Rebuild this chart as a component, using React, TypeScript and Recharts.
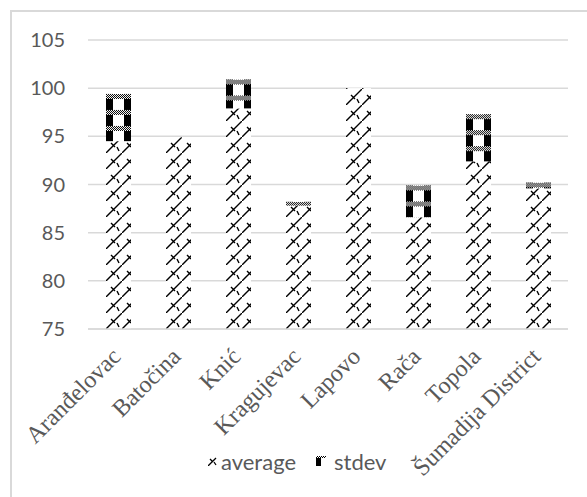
import React from "react";
import { BarChart, Bar, XAxis, YAxis, CartesianGrid, Legend } from "recharts";

const categories = [
  "Aranđelovac",
  "Batočina",
  "Knić",
  "Kragujevac",
  "Lapovo",
  "Rača",
  "Topola",
  "Šumadija District",
];
const average = [94.5, 94.9, 97.9, 87.8, 100, 86.6, 92.4, 89.6];
const stdev = [4.9, 0, 3.0, 0.4, 0, 3.3, 4.9, 0.6];
const yTicks = [75, 80, 85, 90, 95, 100, 105];

const data = categories.map((name, i) => ({
  name,
  average: average[i],
  stdev: stdev[i],
}));

const sans = "Lato, 'Open Sans', sans-serif";
const serif = "'Liberation Serif', 'DejaVu Serif', serif";
const grey = "#595959";

// zigzag fill used by the average bars
function avgTile(id: string, x: number, y: number) {
  return (
    <pattern id={id} patternUnits="userSpaceOnUse" x={x} y={y} width={16} height={16}>
      <rect width={16} height={16} fill="#fff" />
      <path
        d="M-1,17 L17,-1 M5,6 L9,10 M11,10 L13,14"
        stroke="#000"
        strokeWidth={1.4}
        fill="none"
      />
    </pattern>
  );
}

// checker fill used by the stdev bars
function sdTile(id: string, x: number, y: number) {
  return (
    <>
      <pattern id={id + "-f"} patternUnits="userSpaceOnUse" width={2} height={2}>
        <rect width={2} height={2} fill="#fff" />
        <rect width={1} height={1} fill="#000" />
        <rect x={1} y={1} width={1} height={1} fill="#000" />
      </pattern>
      <pattern id={id} patternUnits="userSpaceOnUse" x={x} y={y} width={25} height={16}>
        <rect width={25} height={16} fill="#fff" />
        <rect width={25} height={5} fill={`url(#${id}-f)`} />
        <rect y={5} width={7} height={11} fill="#000" />
        <rect x={18} y={5} width={7} height={11} fill="#000" />
      </pattern>
    </>
  );
}

const AvgShape = (props: any) => {
  const { x, y, width, height, index } = props;
  if (!height || height <= 0) return null;
  const id = `avg-${index}`;
  return (
    <g>
      <defs>{avgTile(id, x, y + height)}</defs>
      <rect x={x} y={y} width={width} height={height} fill={`url(#${id})`} />
    </g>
  );
};

const SdShape = (props: any) => {
  const { x, y, width, height, index } = props;
  if (!height || height <= 0) return null;
  const id = `sd-${index}`;
  return (
    <g>
      <defs>{sdTile(id, x, y)}</defs>
      <rect x={x} y={y} width={width} height={height} fill={`url(#${id})`} />
    </g>
  );
};

const XTick = (props: any) => {
  const { x, y, payload } = props;
  const ax = x + 4;
  const ay = y + 21;
  return (
    <text
      x={ax}
      y={ay}
      transform={`rotate(-45, ${ax}, ${ay})`}
      textAnchor="end"
      fontFamily={serif}
      fontSize={24}
      fill={grey}
    >
      {payload.value}
    </text>
  );
};

const renderLegend = () => (
  <div
    style={{
      display: "flex",
      alignItems: "center",
      height: 28,
      paddingLeft: 160,
      fontFamily: sans,
      fontSize: 22,
      color: grey,
    }}
  >
    <svg width={10} height={10} style={{ marginRight: 3 }}>
      <defs>
        <pattern id="leg-avg" patternUnits="userSpaceOnUse" width={10} height={10}>
          <rect width={10} height={10} fill="#fff" />
          <path d="M0,10 L8,2 M2,3 L5,6 M6,6 L8,9" stroke="#000" strokeWidth={1.3} fill="none" />
        </pattern>
      </defs>
      <rect width={10} height={10} fill="url(#leg-avg)" />
    </svg>
    <span style={{ marginRight: 20 }}>average</span>
    <svg width={10} height={10} style={{ marginRight: 8 }}>
      <defs>{sdTile("leg-sd", -2, -3)}</defs>
      <rect width={10} height={10} fill="url(#leg-sd)" />
    </svg>
    <span>stdev</span>
  </div>
);

export default function App() {
  return (
    <div style={{ position: "absolute", left: 0, top: 0, width: 587, height: 497, background: "#fff", overflow: "hidden" }}>
      <div
        style={{
          position: "absolute",
          left: 10,
          top: 10,
          width: 600,
          height: 520,
          borderLeft: "2px solid #d9d9d9",
          borderTop: "2px solid #d9d9d9",
        }}
      />
      <BarChart
        width={587}
        height={497}
        data={data}
        barSize={25}
        margin={{ top: 40, right: 19, left: 48, bottom: 22 }}
      >
        <CartesianGrid vertical={false} horizontal={true} stroke="#d9d9d9" strokeWidth={1.5} />
        <XAxis
          dataKey="name"
          interval={0}
          height={118}
          tickLine={false}
          axisLine={{ stroke: "#d9d9d9", strokeWidth: 1.5 }}
          tick={<XTick />}
        />
        <YAxis
          type="number"
          domain={[75, 105]}
          allowDataOverflow
          ticks={yTicks}
          interval={0}
          width={40}
          tickSize={0}
          tickMargin={23}
          axisLine={false}
          tickLine={false}
          tick={{ fill: grey, fontFamily: sans, fontSize: 20 }}
        />
        <Legend verticalAlign="bottom" content={renderLegend} />
        <Bar dataKey="average" stackId="a" shape={<AvgShape />} isAnimationActive={false} />
        <Bar dataKey="stdev" stackId="a" shape={<SdShape />} isAnimationActive={false} />
      </BarChart>
    </div>
  );
}
